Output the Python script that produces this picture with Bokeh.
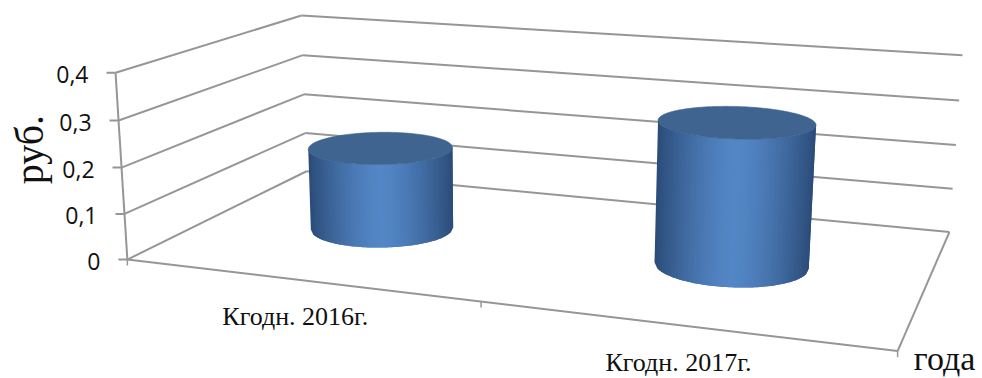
import numpy as np
from bokeh.plotting import figure
from bokeh.models import Range1d
from bokeh.core.properties import value
from bokeh.embed import file_html
from bokeh.resources import INLINE

# Chart data
categories = ["Кгодн. 2016г.", "Кгодн. 2017г."]
values = [0.185, 0.305]
value_ticks = [0.0, 0.1, 0.2, 0.3, 0.4]
tick_labels = ["0", "0,1", "0,2", "0,3", "0,4"]
value_axis_title = "руб."
category_axis_title = "года"

W, H = 982, 378
V_MAX = 0.4

# Camera calibration: box corners (u along categories, w into depth, v value) and screen positions
box_corners = [
    ((0, 0, 0), (127, 259)), ((1, 0, 0), (897, 351)),
    ((1, 1, 0), (949, 231)), ((0, 1, 0), (306, 171)),
    ((0, 0, V_MAX), (115, 72)), ((0, 1, V_MAX), (301, 15)),
    ((1, 1, V_MAX), (962, 55)),
]


def solve_camera(pairs):
    rows = []
    for (x, y, z), (sx, sy) in pairs:
        X = [x, y, z, 1]
        rows.append(X + [0, 0, 0, 0] + [-sx * c for c in X])
        rows.append([0, 0, 0, 0] + X + [-sy * c for c in X])
    return np.linalg.svd(np.array(rows, float))[2][-1].reshape(3, 4)


CAMERA = solve_camera(box_corners)


def project(u, w, v):
    u, w, v = np.broadcast_arrays(np.asarray(u, float), np.asarray(w, float), np.asarray(v, float))
    q = CAMERA @ np.vstack([u.ravel(), w.ravel(), v.ravel(), np.ones(u.size)])
    return q[0] / q[2], q[1] / q[2]


p = figure(width=W, height=H, output_backend="svg", toolbar_location=None,
           x_range=Range1d(0, W), y_range=Range1d(H, 0), min_border=0,
           background_fill_color="white", border_fill_color="white", outline_line_color=None)
p.axis.visible = False
p.grid.visible = False

GRID = "#969696"
LW = 2


def seg(a, b, color=GRID):
    xs, ys = project([a[0], b[0]], [a[1], b[1]], [a[2], b[2]])
    p.line(xs.tolist(), ys.tolist(), line_color=color, line_width=LW)


# Wall grid lines at each value tick
for v in value_ticks:
    seg((0, 0, v), (0, 1, v))
    seg((0, 1, v), (1, 1, v))

# Floor outline and the value axis
seg((0, 0, 0), (1, 0, 0))
seg((1, 0, 0), (1, 1, 0))
seg((0, 0, 0), (0, 0, V_MAX))

# Tick marks on the value axis and along the front floor edge
for v in value_ticks:
    x, y = project(0, 0, v)
    p.line([x[0] - 9, x[0]], [y[0], y[0]], line_color=GRID, line_width=LW)
for u in (0, 0.5, 1):
    x, y = project(u, 0, 0)
    p.line([x[0], x[0]], [y[0], y[0] + 6], line_color=GRID, line_width=1.5)

# Value labels
for v, lab in zip(value_ticks, tick_labels):
    x, y = project(0, 0, v)
    p.text([x[0] - 27], [y[0] + 2], text=[lab], text_font=value("Open Sans"),
           text_font_size="23px", text_color="#111111", text_align="right", text_baseline="middle")

# Cylinders
EDGE = np.array([0x2b, 0x4c, 0x78])
MID = np.array([0x53, 0x86, 0xc6])
TOP = "#3f6490"
RADIUS_U, RADIUS_W = 0.100, 0.19
N = 60


def hex_color(c):
    return "#%02x%02x%02x" % tuple(int(round(k)) for k in c)


def front_arc(cu, v):
    """Near side of a rim circle, ordered left to right on screen."""
    t = np.linspace(0, 2 * np.pi, 721)[:-1]
    x, y = project(cu + RADIUS_U * np.cos(t), 0.5 + RADIUS_W * np.sin(t), v)
    i_right, i_left = np.argmax(x), np.argmin(x)
    idx = (i_left + np.arange((i_right - i_left) % 720 + 1)) % 720
    if y[idx[len(idx) // 2]] < y.mean():
        idx = (i_right + np.arange((i_left - i_right) % 720 + 1)) % 720
    xs, ys = x[idx], y[idx]
    if xs[0] > xs[-1]:
        xs, ys = xs[::-1], ys[::-1]
    return xs, ys


for cu, val in zip((0.25, 0.75), values):
    bx, by = front_arc(cu, 0)
    tx, ty = front_arc(cu, val)
    s = np.linspace(0, 1, N + 1)
    fb = (bx - bx[0]) / (bx[-1] - bx[0])
    ft = (tx - tx[0]) / (tx[-1] - tx[0])
    bxs, bys = np.interp(s, fb, bx), np.interp(s, fb, by)
    txs, tys = np.interp(s, ft, tx), np.interp(s, ft, ty)
    # Left-to-right bands; each one runs under its neighbour so no seams show
    for j in range(N):
        m = (s[j] + s[j + 1]) / 2
        f = np.clip(1 - abs(2 * m - 1) ** 1.5, 0, 1)
        col = hex_color(EDGE + (MID - EDGE) * f)
        e = min(j + 2, N)
        p.patch([bxs[j], *bxs[j + 1:e + 1], *txs[j + 1:e + 1][::-1], txs[j]],
                [bys[j], *bys[j + 1:e + 1], *tys[j + 1:e + 1][::-1], tys[j]],
                fill_color=col, line_color=None)
    t = np.linspace(0, 2 * np.pi, 181)
    ex, ey = project(cu + RADIUS_U * np.cos(t), 0.5 + RADIUS_W * np.sin(t), val)
    p.patch(ex.tolist(), ey.tolist(), fill_color=TOP, line_color=TOP, line_width=0.6)

# Category labels under the front floor edge
for cu, lab in zip((0.25, 0.75), categories):
    x, y = project(cu, 0, 0)
    p.text([x[0] - 2], [y[0] + 37], text=[lab], text_font=value("Liberation Serif"),
           text_font_size="26px", text_color="#111111", text_align="center", text_baseline="middle")

# Axis titles
x0, y0 = project(0, 0, V_MAX / 2)
p.text([x0[0] - 92], [y0[0] - 18], text=[value_axis_title], angle=[np.pi / 2], angle_units="rad",
       text_font=value("Liberation Serif"), text_font_size="40px", text_color="#111111",
       text_align="center", text_baseline="middle")
x1, y1 = project(1, 0, 0)
p.text([x1[0] + 47], [y1[0] + 7], text=[category_axis_title], text_font=value("Liberation Serif"),
       text_font_size="34px", text_color="#111111", text_align="center", text_baseline="middle")

open("out.html", "w").write(file_html(p, INLINE))
